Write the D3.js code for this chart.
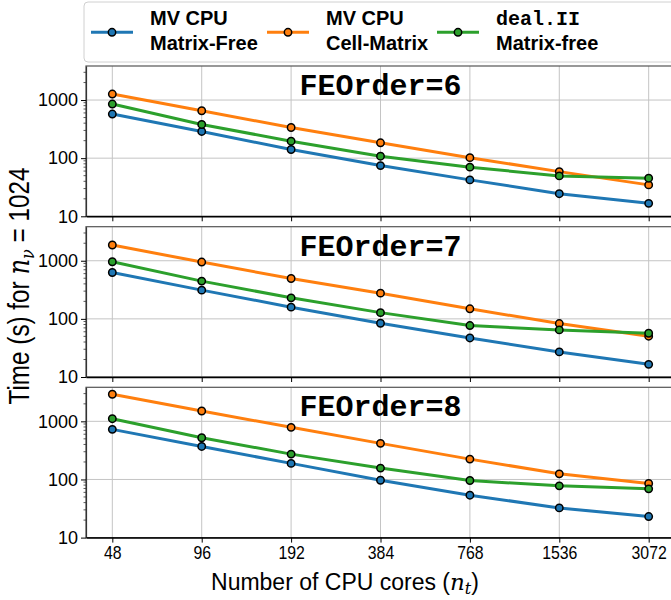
<!DOCTYPE html>
<html>
<head>
<meta charset="utf-8">
<script src="https://cdn.jsdelivr.net/npm/d3@7"></script>
<style>
  body { margin: 0; background: #fff; }
  svg { display: block; }
</style>
</head>
<body>
<div id="chart"></div>
<script>
// cores on the x axis, one panel per FE order
const cores = ["48", "96", "192", "384", "768", "1536", "3072"];
const orders = [6, 7, 8];

// MV CPU Matrix-Free (blue)
const mf6 = [574, 288, 141, 74.5, 42.3, 24.5, 16.7];
const mf7 = [628, 312, 159, 84, 47, 27, 16.5];
const mf8 = [728, 370, 189, 97, 53.6, 32.4, 23];
// MV CPU Cell-Matrix (orange)
const cm6 = [1268, 654, 337, 184, 102, 58.7, 34.7];
const cm7 = [1864, 949, 495, 277, 149, 83, 50.3];
const cm8 = [2923, 1505, 788, 418, 224, 125, 85.3];
// deal.II Matrix-free (green)
const dl6 = [853, 380, 196, 108, 70, 49.5, 45.2];
const dl7 = [961, 446, 230, 128, 76.7, 64.6, 56.6];
const dl8 = [1109, 522, 273, 157, 96, 77.6, 68.9];

const yTicks = [10, 100, 1000];
const yDomain = [10, 3850];

var width = 671, height = 600;
var left = 86, right = 675,
    panelTop = [66, 226.7, 387.3],
    panelH = 150.3;

var series = [
    { name: ["MV CPU", "Matrix-Free"], color: "#1f77b4", vals: [mf6, mf7, mf8] },
    { name: ["MV CPU", "Cell-Matrix"], color: "#ff7f0e", vals: [cm6, cm7, cm8] },
    { name: ["deal.II", "Matrix-free"], color: "#2ca02c", vals: [dl6, dl7, dl8], mono: true }
];

var svg = d3.select("#chart").append("svg")
    .attr("width", width)
    .attr("height", height);

var x = d3.scalePoint()
    .domain(cores)
    .range([left, right])
    .padding(0.2945);

// minor ticks for the log axis
var minor = [];
[10, 100, 1000].forEach(function(d) {
    for (var k = 2; k <= 9; k++) if (d * k < yDomain[1]) minor.push(d * k);
});

orders.forEach(function(ord, pi) {
    var top = panelTop[pi], bottom = top + panelH;
    var y = d3.scaleLog().domain(yDomain).range([bottom, top]);

    var g = svg.append("g");

    // grid
    g.selectAll(".gx").data(cores).enter().append("line")
        .attr("x1", d => x(d)).attr("x2", d => x(d))
        .attr("y1", top).attr("y2", bottom)
        .attr("stroke", "#c4c4c4").attr("stroke-width", 1);
    g.selectAll(".gy").data(yTicks).enter().append("line")
        .attr("x1", left).attr("x2", right)
        .attr("y1", d => y(d)).attr("y2", d => y(d))
        .attr("stroke", "#c4c4c4").attr("stroke-width", 1);

    // frame
    g.append("rect")
        .attr("x", left).attr("y", top)
        .attr("width", right - left).attr("height", panelH)
        .attr("fill", "none").attr("stroke", "#555").attr("stroke-width", 1.2);

    // y axis
    var yAxis = d3.axisLeft(y).tickValues(yTicks).tickFormat(d3.format("d"))
        .tickSize(5).tickSizeOuter(0).tickPadding(3);
    var ya = g.append("g").attr("transform", "translate(" + left + ",0)").call(yAxis);
    ya.select(".domain").attr("stroke", "#333").attr("stroke-width", 1.2);
    ya.selectAll("text")
        .style("font-family", "Liberation Sans, Arial, sans-serif")
        .style("font-size", "18px")
        .attr("fill", "#000");
    g.selectAll(".minor").data(minor).enter().append("line")
        .attr("x1", left - 2.5).attr("x2", left)
        .attr("y1", d => y(d)).attr("y2", d => y(d))
        .attr("stroke", "#333").attr("stroke-width", 0.8);

    // x axis
    var xAxis = d3.axisBottom(x).tickSize(5).tickSizeOuter(0).tickPadding(4);
    var xa = g.append("g").attr("transform", "translate(0," + bottom + ")").call(xAxis);
    xa.select(".domain").attr("stroke", "#000").attr("stroke-width", 1.5);
    xa.selectAll("text")
        .style("font-family", "Liberation Sans, Arial, sans-serif")
        .style("font-size", "18px")
        .attr("fill", "#000")
        .attr("transform", "scale(0.88,1)");
    if (pi < orders.length - 1) xa.selectAll("text").remove();

    // lines and markers
    var line = d3.line()
        .x((d, i) => x(cores[i]))
        .y(d => y(d));

    series.forEach(function(s) {
        var vals = s.vals[pi];
        g.append("path")
            .datum(vals)
            .attr("d", line)
            .attr("fill", "none")
            .attr("stroke", s.color)
            .attr("stroke-width", 3);
        g.selectAll(null).data(vals).enter().append("circle")
            .attr("cx", (d, i) => x(cores[i]))
            .attr("cy", d => y(d))
            .attr("r", 3.7)
            .attr("fill", s.color)
            .attr("stroke", "#000")
            .attr("stroke-width", 1.5);
    });

    // panel title
    g.append("text")
        .attr("x", (left + right) / 2)
        .attr("y", top + 29)
        .attr("text-anchor", "middle")
        .style("font-family", "Liberation Mono, Courier New, monospace")
        .style("font-weight", "bold")
        .style("font-size", "30px")
        .text("FEOrder=" + ord);
});

// legend
var leg = svg.append("g");
leg.append("rect")
    .attr("x", 84).attr("y", 2)
    .attr("width", 620).attr("height", 60)
    .attr("rx", 4)
    .attr("fill", "#fff").attr("stroke", "#d0d0d0").attr("stroke-width", 1);

var legX = [91, 267, 437];
series.forEach(function(s, i) {
    var lx = legX[i];
    leg.append("line")
        .attr("x1", lx).attr("x2", lx + 42)
        .attr("y1", 32.3).attr("y2", 32.3)
        .attr("stroke", s.color).attr("stroke-width", 3);
    leg.append("circle")
        .attr("cx", lx + 21).attr("cy", 32.3).attr("r", 3.7)
        .attr("fill", s.color).attr("stroke", "#000").attr("stroke-width", 1.5);
    s.name.forEach(function(t, k) {
        var mono = s.mono && k === 0;
        leg.append("text")
            .attr("x", lx + 59)
            .attr("y", 25 + k * 25)
            .style("font-family", mono ? "Liberation Mono, monospace" : "Liberation Sans, Arial, sans-serif")
            .style("font-weight", "bold")
            .style("font-size", "20px")
            .text(t);
    });
});

// axis labels
var ylab = svg.append("text")
    .attr("transform", "translate(28.5,286) rotate(-90)")
    .attr("text-anchor", "middle")
    .attr("textLength", 237)
    .attr("lengthAdjust", "spacingAndGlyphs")
    .style("font-family", "Liberation Sans, Arial, sans-serif")
    .style("font-size", "29px");
ylab.append("tspan").text("Time (s) for ");
ylab.append("tspan").style("font-family", "DejaVu Serif, serif").style("font-style", "italic").text("n");
ylab.append("tspan").style("font-family", "DejaVu Serif, serif").style("font-style", "italic")
    .style("font-size", "19px").attr("dy", 5).text("ν");
ylab.append("tspan").attr("dy", -5).text(" = 1024");

var xlab = svg.append("text")
    .attr("x", 345)
    .attr("y", 590)
    .attr("text-anchor", "middle")
    .style("font-family", "Liberation Sans, Arial, sans-serif")
    .style("font-size", "23px");
xlab.append("tspan").text("Number of CPU cores (");
xlab.append("tspan").style("font-family", "DejaVu Serif, serif").style("font-style", "italic").text("n");
xlab.append("tspan").style("font-family", "DejaVu Serif, serif").style("font-style", "italic")
    .style("font-size", "16px").attr("dy", 4).text("t");
xlab.append("tspan").attr("dy", -4).text(")");
</script>
</body>
</html>
